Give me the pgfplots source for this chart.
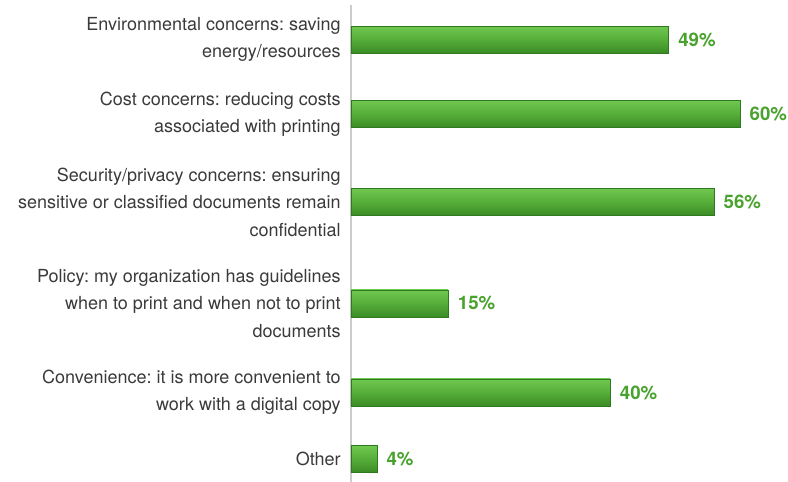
\documentclass[border=0pt]{standalone}
\usepackage{pgfplots}
\pgfplotsset{compat=1.18}
\usepackage{fontspec}
\setmainfont{TeX Gyre Heros}
\frenchspacing
\definecolor{barlight}{HTML}{70C850}
\definecolor{barmid}{HTML}{56AE3A}
\definecolor{bardark}{HTML}{3A8A24}
\definecolor{baredge}{HTML}{2E7A1E}
\definecolor{valgreen}{HTML}{4AA22E}
\definecolor{labgray}{HTML}{3A3A3A}
\pgfplotsset{greenbar/.style={xbar, bar width=20.25pt, bar shift=0pt, draw=baredge, line width=0.5pt,
  top color=barlight, bottom color=bardark, middle color=barmid, point meta=x}}
\begin{document}
\begin{tikzpicture}
\begin{axis}[
  x=4.8623pt, y=0.75pt,
  y dir=reverse,
  xmin=0, xmax=67, ymin=5, ymax=482,
  axis x line=none,
  axis y line*=left,
  y axis line style={draw=gray!40, line width=1.1pt, -},
  ytick={39.5,114,202,303.5,392.5,459},
  yticklabels={{\frenchspacing Environmental concerns: saving\\energy/resources},
               {\frenchspacing Cost concerns: reducing costs\\associated with printing},
               {\frenchspacing Security/privacy concerns: ensuring\\sensitive or classified documents remain\\confidential},
               {\frenchspacing Policy: my organization has guidelines\\when to print and when not to print\\documents},
               {\frenchspacing Convenience: it is more convenient to\\work with a digital copy},
               {Other}},
  yticklabel style={align=right, font=\fontsize{13.5}{20.6}\selectfont, text=labgray, inner sep=0pt, xshift=-7.5pt},
  major tick length=0,
  /pgf/number format/assume math mode=true,
  nodes near coords={\pgfmathprintnumber{\pgfplotspointmeta}\%},
  nodes near coords style={font=\bfseries\fontsize{14}{16}\selectfont, text=valgreen, inner sep=0pt, xshift=7pt, anchor=west},
  clip=false,
]
\addplot[greenbar] coordinates {(49,39.5)};
\addplot[greenbar] coordinates {(60,114)};
\addplot[greenbar] coordinates {(56,202)};
\addplot[greenbar] coordinates {(15,303.5)};
\addplot[greenbar] coordinates {(40,392.5)};
\addplot[greenbar] coordinates {(4,459)};
\coordinate (bl) at (axis cs:-54.14,482);
\coordinate (tr) at (axis cs:67.41,0);
\end{axis}
\pgfresetboundingbox
\path[use as bounding box] (bl) rectangle (tr);
\end{tikzpicture}
\end{document}
